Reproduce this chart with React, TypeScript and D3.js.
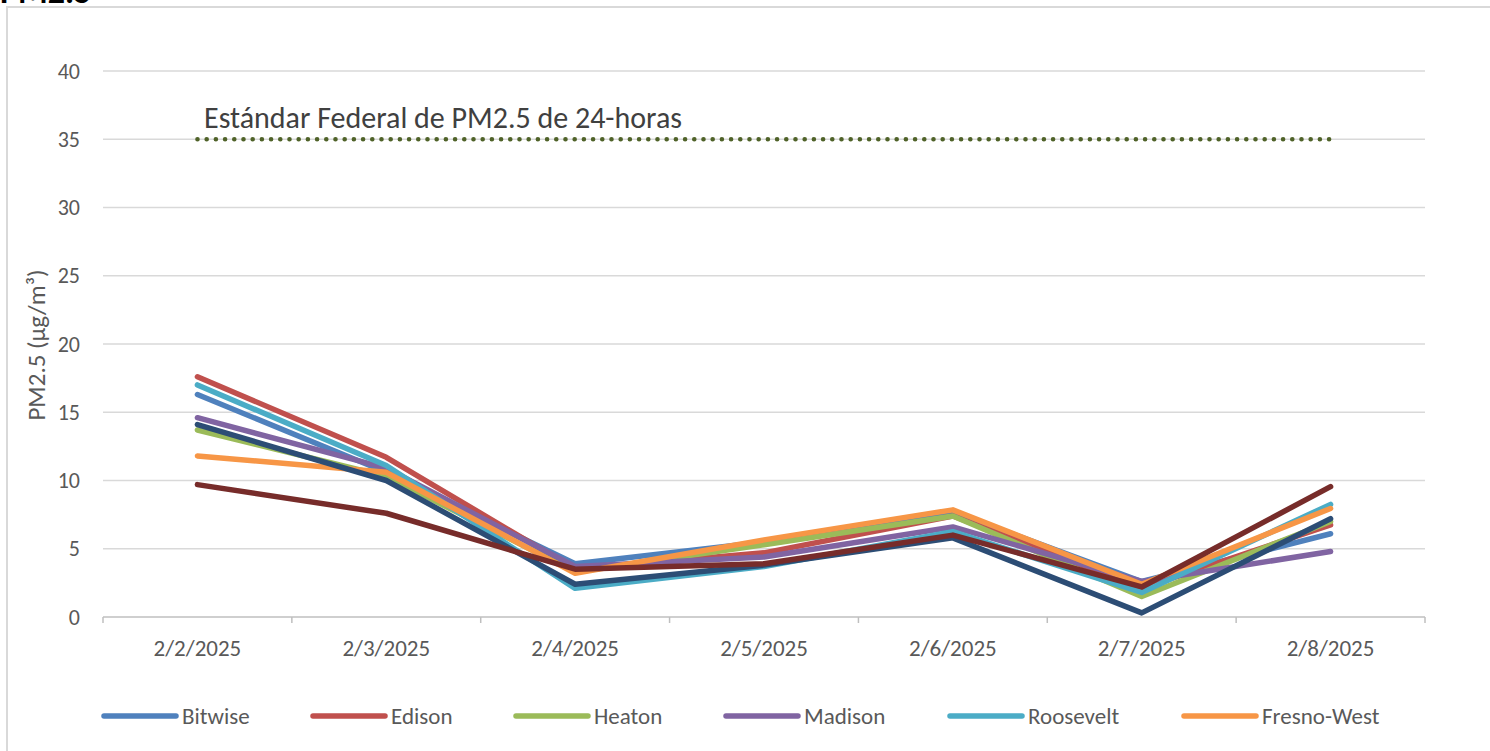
import React from "react";
import * as d3 from "d3";

const dates = ["2/2/2025", "2/3/2025", "2/4/2025", "2/5/2025", "2/6/2025", "2/7/2025", "2/8/2025"];
const yTicks = [0, 5, 10, 15, 20, 25, 30, 35, 40];

const bitwise = [16.3, 10.6, 3.9, 5.5, 7.7, 2.6, 6.1];
const edison = [17.6, 11.7, 3.5, 4.7, 7.4, 2.1, 6.75];
const heaton = [13.7, 10.3, 3.3, 5.3, 7.4, 1.5, 7.0];
const madison = [14.6, 10.9, 3.7, 4.4, 6.6, 2.6, 4.8];
const roosevelt = [17.0, 11.1, 2.1, 3.7, 6.25, 1.8, 8.25];
const fresnoWest = [11.8, 10.6, 3.2, 5.65, 7.85, 2.4, 7.95];
// two more series whose legend entries fall below the picture
const series7 = [14.1, 10.0, 2.4, 3.8, 5.8, 0.3, 7.2];
const series8 = [9.7, 7.6, 3.5, 3.9, 6.0, 2.2, 9.55];

const standard = 35;
const standardLabel = "Estándar Federal de PM2.5 de 24-horas";

const series = [
  { name: "Bitwise", values: bitwise, color: "#4F81BD", legend: true },
  { name: "Edison", values: edison, color: "#C0504D", legend: true },
  { name: "Heaton", values: heaton, color: "#9BBB59", legend: true },
  { name: "Madison", values: madison, color: "#8064A2", legend: true },
  { name: "Roosevelt", values: roosevelt, color: "#4BACC6", legend: true },
  { name: "Fresno-West", values: fresnoWest, color: "#F79646", legend: true },
  { name: "Serie 7", values: series7, color: "#2C4D75", legend: false },
  { name: "Serie 8", values: series8, color: "#772C2A", legend: false },
];

const legendX = [104, 313, 516, 726, 950, 1184];

const font = "Carlito, Calibri, Lato, 'Open Sans', sans-serif";

export default function App() {
  const W = 1490;
  const H = 751;
  const left = 103, right = 1425, top = 71, bottom = 617;

  const x = d3.scaleBand().domain(dates).range([left, right]);
  const cx = (d: string) => (x(d) as number) + x.bandwidth() / 2;
  const y = d3.scaleLinear().domain([0, 40]).range([bottom, top]);

  const line = d3
    .line<number>()
    .x((_, i) => cx(dates[i]))
    .y((v) => y(v));

  const boundaries = dates.map((d) => x(d) as number).concat([right]);

  return (
    <svg
      width={W}
      height={H}
      style={{ position: "absolute", left: 0, top: 0, background: "#fff" }}
      fontFamily={font}
    >
      <text x={0} y={3} fontSize={34} fontWeight="bold" fill="#000">PM2.5</text>
      <rect x={7} y={7} width={W + 10} height={H + 10} fill="none" stroke="#d9d9d9" strokeWidth={2} />

      {yTicks.map((t) => (
        <g key={t}>
          <line x1={left} x2={right} y1={y(t)} y2={y(t)} stroke={t === 0 ? "#bfbfbf" : "#d9d9d9"} strokeWidth={1.5} />
          <text x={80} y={y(t)} dy="0.35em" textAnchor="end" fontSize={22} fill="#595959">{t}</text>
        </g>
      ))}

      {boundaries.map((b, i) => (
        <line key={i} x1={b} x2={b} y1={bottom} y2={bottom + 6} stroke="#bfbfbf" strokeWidth={1.5} />
      ))}

      {dates.map((d) => (
        <text key={d} x={cx(d)} y={656} textAnchor="middle" fontSize={23} fill="#595959">{d}</text>
      ))}

      <text
        transform={`translate(36,345) rotate(-90)`}
        textAnchor="middle"
        dy="0.35em"
        fontSize={25}
        fill="#595959"
      >
        PM2.5 (µg/m³)
      </text>

      <line
        x1={cx(dates[0])}
        x2={cx(dates[dates.length - 1])}
        y1={y(standard)}
        y2={y(standard)}
        stroke="#4F6228"
        strokeWidth={4.5}
        strokeLinecap="round"
        strokeDasharray="0.1 9.1"
      />
      <text x={204} y={128} fontSize={30} fill="#404040">{standardLabel}</text>

      {series.map((s) => (
        <path
          key={s.name}
          d={line(s.values) as string}
          fill="none"
          stroke={s.color}
          strokeWidth={5.5}
          strokeLinejoin="round"
          strokeLinecap="round"
        />
      ))}

      {series.filter((s) => s.legend).map((s, i) => (
        <g key={s.name}>
          <line x1={legendX[i]} x2={legendX[i] + 72} y1={716} y2={716} stroke={s.color} strokeWidth={5.5} strokeLinecap="round" />
          <text x={legendX[i] + 78} y={716} dy="0.35em" fontSize={23} fill="#595959">{s.name}</text>
        </g>
      ))}
    </svg>
  );
}
